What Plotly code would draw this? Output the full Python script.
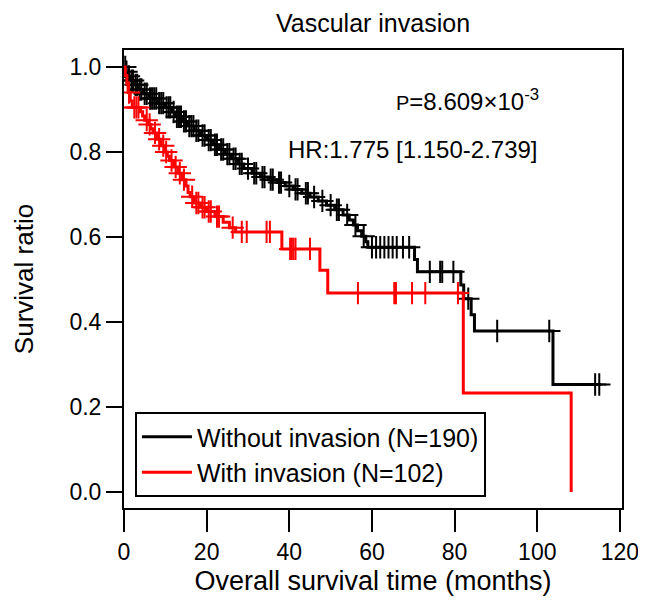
import plotly.graph_objects as go

# ---- Data ----
# Without invasion (N=190): step times (months) and survival after each step
black_t = [0, 0.5, 1, 1.5, 2.5, 3.5, 4.5, 6, 8, 10, 11.5, 12.5, 14, 15.5, 17, 18.5, 20,
           21.5, 23, 24.5, 26, 27.5, 29, 31, 33, 35, 37, 39, 41, 43, 45, 47, 49, 51, 53,
           54.5, 55.5, 56.5, 57.5, 58.5, 59, 70.3, 71, 81.5, 82.2, 84, 84.8, 103.8, 115.5]
black_s = [1.0, 0.989, 0.978, 0.968, 0.958, 0.947, 0.937, 0.926, 0.915, 0.905, 0.894, 0.883,
           0.872, 0.861, 0.850, 0.839, 0.828, 0.817, 0.806, 0.795, 0.784, 0.772, 0.761, 0.750,
           0.741, 0.735, 0.728, 0.720, 0.712, 0.703, 0.694, 0.685, 0.675, 0.664, 0.652, 0.640,
           0.628, 0.615, 0.602, 0.589, 0.576, 0.547, 0.518, 0.487, 0.455, 0.417, 0.379, 0.253,
           0.253]
black_censor = [0.3, 0.6, 1.2, 1.8, 2.2, 2.8, 3.2, 3.8, 4.2, 5, 5.5, 6.3, 6.8, 7.3, 7.8, 8.5,
                9, 9.5, 10.3, 10.8, 11.2, 12, 12.8, 13.3, 13.8, 14.5, 15, 15.8, 16.3, 16.8,
                17.5, 18, 19, 19.5, 20.5, 21, 22, 22.5, 23.5, 24, 25, 25.5, 26.5, 27, 28, 28.5,
                30, 31.5, 32, 33.5, 34, 35.5, 36, 37.5, 38, 40, 41.5, 42, 44, 44.5, 46, 48,
                50, 51.5, 52, 54, 56, 58, 60, 61, 62, 63, 64, 65, 66, 67.5, 69, 74, 76.5, 77,
                79.7, 83.3, 90.3, 102.9, 114, 115]

# With invasion (N=102)
red_t = [0, 0.3, 0.7, 1, 1.5, 2, 4, 4.5, 5, 6, 6.5, 7, 8, 9, 10, 10.5, 11, 12, 13, 14, 15,
         15.5, 16, 17, 18.5, 20, 22, 24, 25.5, 27, 38.2, 47.4, 49.3, 82.1, 108.2]
red_s = [1.0, 0.98, 0.96, 0.94, 0.92, 0.905, 0.895, 0.885, 0.875, 0.865, 0.855, 0.845, 0.83,
         0.815, 0.80, 0.79, 0.78, 0.765, 0.75, 0.735, 0.72, 0.705, 0.695, 0.68, 0.67, 0.66,
         0.648, 0.635, 0.622, 0.612, 0.572, 0.522, 0.468, 0.233, 0.0]
red_censor = [1.2, 2.5, 3, 3.5, 5.5, 6.2, 7.5, 8.5, 9.5, 10.2, 11.5, 12.5, 13.5, 14.5, 16.5,
              17.5, 18, 19, 19.5, 20.5, 21, 22.5, 23, 26.3, 28.5, 29.7, 34.5, 35.3, 40.2, 40.6,
              41, 41.5, 45, 56.6, 65.4, 65.8, 69.7, 72.9, 80.8]

labels = ["Without invasion (N=190)", "With invasion (N=102)"]
colors = ["#000000", "#ff0000"]


def surv_at(times, surv, t):
    val = surv[0]
    for ti, si in zip(times, surv):
        if ti <= t:
            val = si
        else:
            break
    return val


FONT = "Liberation Sans, Arial, Helvetica, sans-serif"

fig = go.Figure()
groups = [(black_t, black_s, black_censor), (red_t, red_s, red_censor)]
for i, (tt, ss, cc) in enumerate(groups):
    fig.add_trace(go.Scatter(
        x=tt, y=ss, mode="lines", line=dict(shape="hv", color=colors[i], width=3),
        name=labels[i], legendgroup=f"g{i}", showlegend=True, hoverinfo="skip"))
    fig.add_trace(go.Scatter(
        x=cc, y=[surv_at(tt, ss, c) for c in cc], mode="markers",
        marker=dict(symbol="cross-thin", size=16, line=dict(color=colors[i], width=2)),
        legendgroup=f"g{i}", showlegend=False, hoverinfo="skip"))

fig.update_layout(
    width=630, height=598,
    margin=dict(l=116, r=16, t=42, b=98, autoexpand=False),
    paper_bgcolor="white", plot_bgcolor="white",
    font=dict(family=FONT, size=23, color="black"),
    title=dict(text="Vascular invasion", x=0.5, xanchor="center", xref="paper",
               y=0.975, yanchor="middle", yref="container", font=dict(size=25)),
    xaxis=dict(range=[0, 120.5], dtick=20, tick0=0, showgrid=False, zeroline=False,
               showline=True, mirror=True, linecolor="black", linewidth=2,
               ticks="outside", ticklen=22, tickwidth=2, tickcolor="black",
               tickfont=dict(size=23), ticklabeloverflow="allow", automargin=False,
               title=dict(text="Overall survival time (months)", font=dict(size=27), standoff=8)),
    yaxis=dict(range=[-0.0376, 1.04], dtick=0.2, tick0=0, tickformat=".1f", showgrid=False,
               zeroline=False, showline=True, mirror=True, linecolor="black", linewidth=2,
               ticks="outside", ticklen=16, tickwidth=2, tickcolor="black",
               tickfont=dict(size=23), automargin=False,
               title=dict(text="Survival ratio", font=dict(size=26), standoff=28)),
    legend=dict(x=0.022, y=0.024, xanchor="left", yanchor="bottom",
                bordercolor="black", borderwidth=2, bgcolor="white",
                font=dict(size=25), tracegroupgap=0, itemwidth=50),
    showlegend=True,
)

fig.add_annotation(x=83.0, y=0.922, xref="x", yref="y", showarrow=False,
                   text="<span style='font-size:20px'>P</span>=8.609×10<sup>-3</sup>",
                   font=dict(size=24))
fig.add_annotation(x=70.0, y=0.805, xref="x", yref="y", showarrow=False,
                   text="HR:1.775 [1.150-2.739]", font=dict(size=24))

fig.write_html("out.html")
